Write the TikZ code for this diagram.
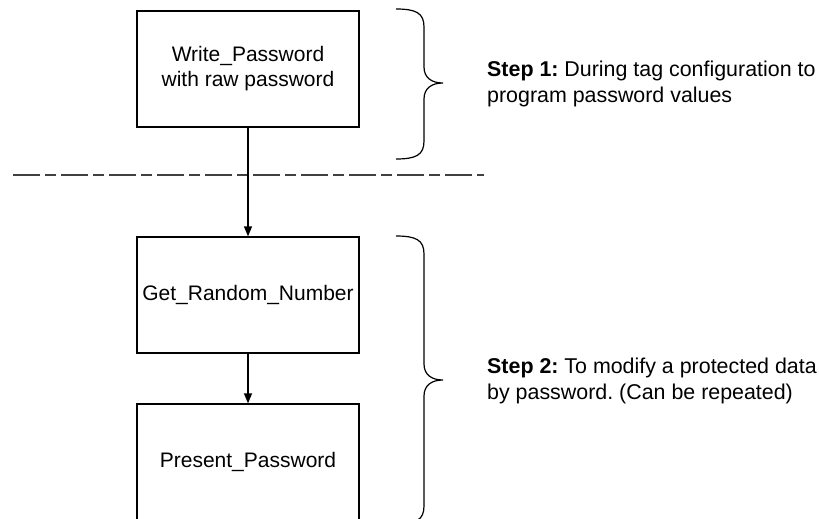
\documentclass[tikz,border=0pt]{standalone}
\usepackage{fontspec}
\setmainfont{Liberation Sans}
\usetikzlibrary{arrows.meta}
\frenchspacing

\tikzset{
  box/.style={draw, line width=1.3pt, minimum width=222pt, minimum height=116pt,
    align=center, inner sep=0pt, font=\fontsize{21}{25}\selectfont},
  steptext/.style={anchor=west, align=left, inner sep=0pt,
    font=\fontsize{21.4}{25.5}\selectfont},
  flow/.style={-{Triangle[length=10pt,width=8pt]}, line width=1.3pt},
  divider/.style={line width=1.3pt, draw=black!75,
    dash pattern=on 26.5pt off 5.5pt on 10.5pt off 5.5pt},
  bracket/.style={line width=1.2pt}
}

\begin{document}
\begin{tikzpicture}[x=1pt, y=-1pt]
\useasboundingbox (0,0) rectangle (819,519);
% Commands
\node[box] (wpass) at (248,69) {Write\_Password\\with raw password};
\node[box] (grand) at (248,295) {Get\_Random\_Number};
\node[box] (ppass) at (248,462) {Present\_Password};
% Divider between the two steps
\coordinate (divL) at (13,175);
\coordinate (divR) at (484,175);
\draw[divider] (divL) -- (divR);
% Arrows
\draw[flow] (wpass) -- (grand);
\draw[flow] (grand) -- (ppass);
% Braces
\draw[bracket] (396,9) .. controls (416,9) and (424,13) .. (424,27) -- (424,67)
  .. controls (424,78) and (432,83) .. (443,83)
  .. controls (432,83) and (424,88) .. (424,99) -- (424,141)
  .. controls (424,155) and (416,159) .. (396,159);
\draw[bracket] (396,236) .. controls (416,236) and (424,240) .. (424,254) -- (424,364)
  .. controls (424,375) and (432,380) .. (443,380)
  .. controls (432,380) and (424,385) .. (424,396) -- (424,506)
  .. controls (424,520) and (416,524) .. (396,524);
% Step labels
\node[steptext] (step1) at (487,84) {\textbf{Step 1:} During tag configuration to\\program password values};
\node[steptext] (step2) at (487,381) {\textbf{Step 2:} To modify a protected data\\by password. (Can be repeated)};
\end{tikzpicture}
\end{document}
